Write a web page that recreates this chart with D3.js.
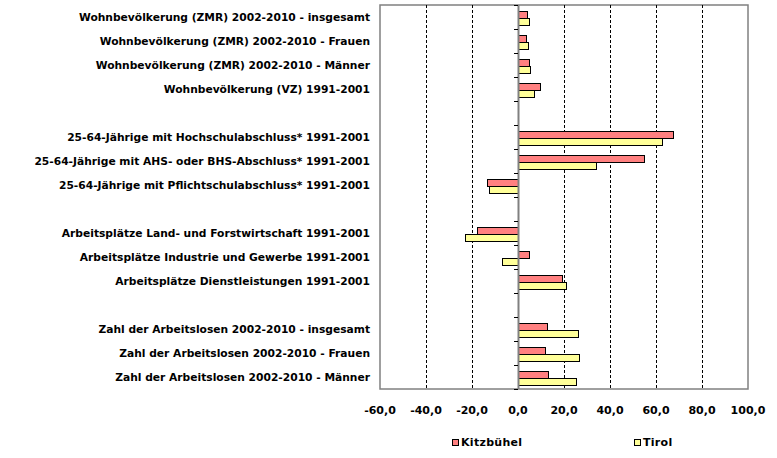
<!DOCTYPE html>
<html>
<head>
<meta charset="utf-8">
<script src="https://cdn.jsdelivr.net/npm/d3@7"></script>
<style>
  html, body { margin: 0; padding: 0; background: #fff; }
  svg { display: block; }
  text { font-family: "DejaVu Sans", Verdana, sans-serif; font-weight: bold; fill: #000; }
</style>
</head>
<body>
<svg id="chart" width="777" height="458"></svg>
<script>
const categories = [
  "Wohnbevölkerung (ZMR) 2002-2010 - insgesamt",
  "Wohnbevölkerung (ZMR) 2002-2010 - Frauen",
  "Wohnbevölkerung (ZMR) 2002-2010 - Männer",
  "Wohnbevölkerung (VZ) 1991-2001",
  "",
  "25-64-Jährige mit Hochschulabschluss* 1991-2001",
  "25-64-Jährige mit AHS- oder BHS-Abschluss* 1991-2001",
  "25-64-Jährige mit Pflichtschulabschluss* 1991-2001",
  " ",
  "Arbeitsplätze Land- und Forstwirtschaft 1991-2001",
  "Arbeitsplätze Industrie und Gewerbe 1991-2001",
  "Arbeitsplätze Dienstleistungen 1991-2001",
  "  ",
  "Zahl der Arbeitslosen 2002-2010 - insgesamt",
  "Zahl der Arbeitslosen 2002-2010 - Frauen",
  "Zahl der Arbeitslosen 2002-2010 - Männer"
];
const kitzbuehel = [3.9, 3.5, 4.8, 9.6, null, 67.4, 54.8, -13.5, null, -17.8, 4.9, 19.3, null, 12.8, 11.7, 13.2];
const tirol      = [4.8, 4.3, 5.2, 7.0, null, 62.6, 34.1, -12.7, null, -23.0, -7.0, 21.0, null, 26.2, 26.7, 25.4];
const seriesNames = ["Kitzbühel", "Tirol"];
const seriesColors = ["#FF8080", "#FFFF99"];
const xTicks = [-60, -40, -20, 0, 20, 40, 60, 80, 100];

const svg = d3.select("#chart");
const pL = 380, pR = 748, pT = 5, pB = 389;

const x = d3.scaleLinear().domain([-60, 100]).range([pL, pR]);
const y = d3.scaleBand().domain(d3.range(categories.length)).range([pT, pB]).paddingInner(0).paddingOuter(0);
const bw = y.bandwidth();
const barH = bw * 0.31;
const sub = d3.scaleBand().domain([0, 1]).range([bw / 2 - barH + 1, bw / 2 + barH + 1]);

// plot border
svg.append("rect").attr("x", pL).attr("y", pT).attr("width", pR - pL).attr("height", pB - pT)
  .attr("fill", "#fff").attr("stroke", "#808080").attr("stroke-width", 1.5);

// grid
svg.append("g").selectAll("line").data(xTicks.filter(t => t !== 0 && t !== -60 && t !== 100)).join("line")
  .attr("x1", d => Math.round(x(d)) + 0.5).attr("x2", d => Math.round(x(d)) + 0.5)
  .attr("y1", pT).attr("y2", pB)
  .attr("stroke", "#000").attr("stroke-width", 1).attr("stroke-dasharray", "3,2");

// bars
const data = [kitzbuehel, tirol];
data.forEach((vals, si) => {
  svg.append("g").selectAll("rect")
    .data(vals.map((v, i) => ({ v, i })).filter(d => d.v !== null))
    .join("rect")
    .attr("x", d => Math.round(x(Math.min(0, d.v))) + 0.5)
    .attr("y", d => Math.round(y(d.i) + sub(si)) + 0.5)
    .attr("width", d => Math.abs(Math.round(x(d.v)) - Math.round(x(0))))
    .attr("height", Math.round(sub.bandwidth()))
    .attr("fill", seriesColors[si])
    .attr("stroke", "#000").attr("stroke-width", 1);
});

// zero axis
const x0 = Math.round(x(0));
svg.append("line").attr("x1", x0 + 0.5).attr("x2", x0 + 0.5).attr("y1", pT).attr("y2", pB)
  .attr("stroke", "#808080").attr("stroke-width", 2);
svg.append("g").selectAll("line").data(d3.range(categories.length + 1)).join("line")
  .attr("x1", x0 - 4).attr("x2", x0)
  .attr("y1", d => Math.round(pT + d * bw) + 0.5).attr("y2", d => Math.round(pT + d * bw) + 0.5)
  .attr("stroke", "#000").attr("stroke-width", 1);

// category labels
svg.append("g").selectAll("text").data(categories).join("text")
  .attr("x", 370).attr("y", (d, i) => y(i) + bw / 2 + 1)
  .attr("text-anchor", "end").attr("dominant-baseline", "middle")
  .attr("font-size", "10.7px")
  .text(d => d.trim());

// x tick labels
const fmt = d => d3.format(".1f")(d).replace(".", ",").replace("−", "-");
svg.append("g").selectAll("text").data(xTicks).join("text")
  .attr("x", d => x(d)).attr("y", 414)
  .attr("text-anchor", "middle").attr("font-size", "11px")
  .text(fmt);

// legend
const legX = [452, 634];
seriesNames.forEach((n, i) => {
  svg.append("rect").attr("x", legX[i] + 0.5).attr("y", 439.5).attr("width", 6).attr("height", 6)
    .attr("fill", seriesColors[i]).attr("stroke", "#000").attr("stroke-width", 1);
  svg.append("text").attr("x", legX[i] + 9).attr("y", 446).attr("font-size", "11px")
    .attr("letter-spacing", "0.3px").text(n);
});
</script>
</body>
</html>
